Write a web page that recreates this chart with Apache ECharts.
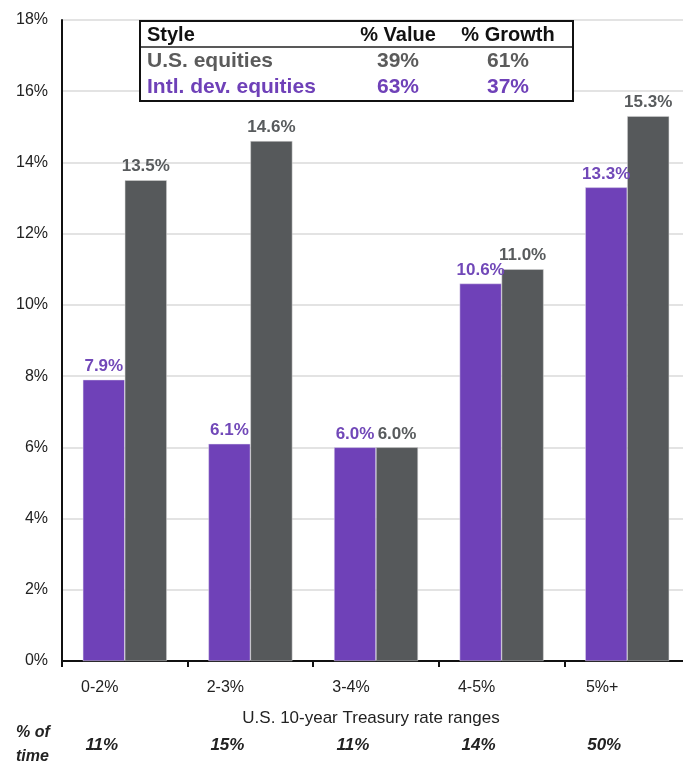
<!DOCTYPE html>
<html>
<head>
<meta charset="utf-8">
<script src="https://cdn.jsdelivr.net/npm/echarts@6/dist/echarts.min.js"></script>
<style>html,body{margin:0;padding:0;background:#fff;}#c{width:683px;height:768px;}</style>
</head>
<body>
<div id="c"></div>
<script>
const categories = ['0-2%', '2-3%', '3-4%', '4-5%', '5%+'];
const intlDev = [7.9, 6.1, 6.0, 10.6, 13.3];
const usEq = [13.5, 14.6, 6.0, 11.0, 15.3];
const timeShare = ['11%', '15%', '11%', '14%', '50%'];
const yTicks = [0, 2, 4, 6, 8, 10, 12, 14, 16, 18];
const tableHeader = ['Style', '% Value', '% Growth'];
const tableRows = [
  ['U.S. equities', '39%', '61%'],
  ['Intl. dev. equities', '63%', '37%']
];

const PURPLE = '#6f41b8';
const GREY = '#56595b';
const FONT = '"Liberation Sans", Arial, sans-serif';

const chart = echarts.init(document.getElementById('c'));

const tableGraphics = [];
tableGraphics.push({type: 'rect', z: 100, shape: {x: 140, y: 21, width: 433, height: 80},
  style: {fill: '#fff', stroke: '#111', lineWidth: 2}});
tableGraphics.push({type: 'line', z: 101, shape: {x1: 141, y1: 47, x2: 572, y2: 47},
  style: {stroke: '#222', lineWidth: 1.5}});
const colX = [147, 398, 508];
const colAlign = ['left', 'center', 'center'];
tableHeader.forEach((t, i) => {
  tableGraphics.push({type: 'text', z: 102, x: colX[i], y: 35,
    style: {text: t, fill: '#111', font: 'bold 20px ' + FONT, align: colAlign[i], verticalAlign: 'middle'}});
});
const rowColors = ['#5b5b5b', PURPLE];
tableRows.forEach((row, r) => {
  row.forEach((t, i) => {
    tableGraphics.push({type: 'text', z: 102, x: colX[i], y: 61 + r * 26,
      style: {text: t, fill: rowColors[r], font: 'bold 21px ' + FONT, align: colAlign[i], verticalAlign: 'middle'}});
  });
});

const option = {
  backgroundColor: '#fff',
  animation: false,
  grid: {left: 62, top: 20, right: -7, bottom: 107, containLabel: false, outerBoundsMode: 'none'},
  xAxis: [{
    type: 'category',
    data: categories,
    axisLine: {lineStyle: {color: '#111', width: 2}},
    axisTick: {show: true, length: 6, lineStyle: {color: '#111', width: 2}},
    axisLabel: {margin: 19, fontSize: 16, color: '#222', fontFamily: FONT, padding: [0, 50, 0, 0]},
    name: 'U.S. 10-year Treasury rate ranges',
    nameLocation: 'middle',
    nameGap: 49,
    nameTextStyle: {fontSize: 17, color: '#222', fontFamily: FONT, padding: [0, 10, 0, 0]}
  }, {
    type: 'category',
    data: timeShare,
    position: 'bottom',
    offset: 70,
    axisLine: {show: false},
    axisTick: {show: false},
    axisLabel: {margin: 6, fontSize: 17, fontWeight: 'bold', fontStyle: 'italic', color: '#222', fontFamily: FONT, padding: [0, 46, 0, 0]}
  }],
  yAxis: {
    type: 'value',
    min: 0, max: 18, interval: 2,
    axisLine: {show: true, lineStyle: {color: '#111', width: 2}},
    axisTick: {show: false},
    splitLine: {lineStyle: {color: '#e3e3e3', width: 2}},
    axisLabel: {margin: 14, fontSize: 16, color: '#222', fontFamily: FONT,
      formatter: v => yTicks.includes(v) ? v + '%' : ''}
  },
  series: [{
    type: 'bar',
    data: intlDev,
    barWidth: 42,
    barGap: '0%',
    itemStyle: {color: PURPLE, borderColor: '#e8e4f0', borderWidth: 0.5},
    label: {show: true, position: 'top', distance: 5, formatter: p => p.value.toFixed(1) + '%',
      color: '#7148b8', fontSize: 17, fontWeight: 'bold', fontFamily: FONT}
  }, {
    type: 'bar',
    data: usEq,
    barWidth: 42,
    itemStyle: {color: GREY, borderColor: '#d8d8d8', borderWidth: 0.5},
    label: {show: true, position: 'top', distance: 5, formatter: p => p.value.toFixed(1) + '%',
      color: '#585b5d', fontSize: 17, fontWeight: 'bold', fontFamily: FONT}
  }],
  graphic: tableGraphics.concat([
    {type: 'text', x: 16, y: 733, style: {text: '% of', fill: '#222', font: 'italic bold 16px ' + FONT, verticalAlign: 'middle'}},
    {type: 'text', x: 16, y: 757, style: {text: 'time', fill: '#222', font: 'italic bold 16px ' + FONT, verticalAlign: 'middle'}}
  ])
};
chart.setOption(option);
</script>
</body>
</html>
